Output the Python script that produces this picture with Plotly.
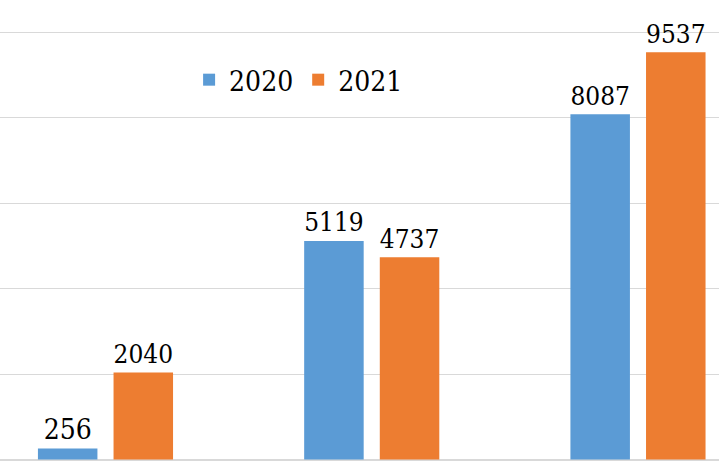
import plotly.graph_objects as go

categories = ["A", "B", "C"]
series_names = ["2020", "2021"]
values_2020 = [256, 5119, 8087]
values_2021 = [2040, 4737, 9537]

colors = ["#5B9BD5", "#ED7D31"]
font_family = "DejaVu Serif Condensed, DejaVu Serif"

fig = go.Figure()
for name, vals, col in zip(series_names, [values_2020, values_2021], colors):
    fig.add_trace(go.Bar(
        x=categories, y=vals, name=name,
        marker=dict(color=col, line=dict(width=0)),
        text=[str(v) for v in vals],
        textposition="outside",
        cliponaxis=False,
        textfont=dict(family=font_family, size=28, color="#000000"),
    ))

fig.update_layout(
    width=719, height=462,
    margin=dict(l=0, r=0, t=0, b=0),
    paper_bgcolor="white", plot_bgcolor="white",
    font=dict(family=font_family),
    barmode="group", bargap=0.432, bargroupgap=0.213,
    showlegend=True,
    legend=dict(
        orientation="h", x=0.263, y=0.881, xanchor="left", yanchor="top",
        font=dict(family=font_family, size=28, color="#000000"),
        bgcolor="rgba(0,0,0,0)", itemwidth=30, traceorder="normal",
    ),
)
fig.update_xaxes(
    type="category", range=[-0.3962, 2.3043], showticklabels=False,
    showgrid=False, zeroline=False, showline=False, ticks="",
)
fig.update_yaxes(
    range=[-58.5, 10761], dtick=2000, tick0=0,
    showticklabels=False, showgrid=True, gridcolor="#D9D9D9", gridwidth=1,
    zeroline=True, zerolinecolor="#D9D9D9", zerolinewidth=1.5,
    showline=False, ticks="",
)

fig.write_html("out.html")
